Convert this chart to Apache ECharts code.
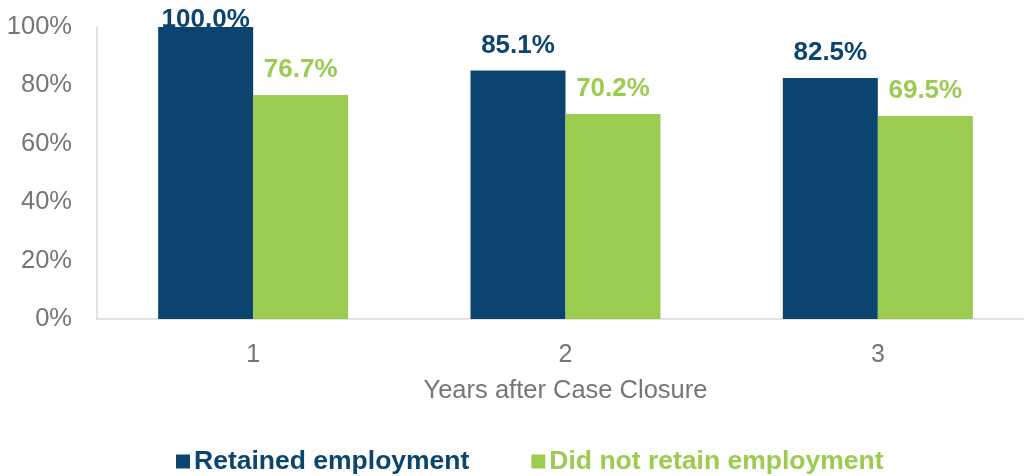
<!DOCTYPE html>
<html><head><meta charset="utf-8">
<script src="https://cdn.jsdelivr.net/npm/echarts@6/dist/echarts.min.js"></script>
<style>html,body{margin:0;padding:0;background:#fff}#c{width:1024px;height:476px}</style>
</head><body><div id="c"></div>
<script>
const categories = ['1', '2', '3'];
const retained = [100.0, 85.1, 82.5];
const notRetained = [76.7, 70.2, 69.5];
const yTicks = [0, 20, 40, 60, 80, 100];
const seriesNames = ['Retained employment', 'Did not retain employment'];
const xName = 'Years after Case Closure';

const BLUE = '#0B456F', GREEN = '#9BCB4F', GRAY = '#767676';
const FONT = '"Liberation Sans", Arial, sans-serif';
// labels at the top of the plot are clamped inside it (as in the source)
const toData = arr => arr.map(v => v >= 100 ? { value: v, label: { distance: -6 } } : v);
const labelFmt = p => p.value.toFixed(1) + '%';
const chart = echarts.init(document.getElementById('c'));
chart.setOption({
  animation: false,
  textStyle: { fontFamily: FONT },
  grid: { left: 97, top: 27, width: 937, bottom: 157, outerBoundsMode: 'none', containLabel: false },
  legend: {
    top: 448, left: 176, padding: 0,
    itemWidth: 14, itemHeight: 14, itemGap: 62,
    icon: 'rect',
    data: seriesNames,
    textStyle: { fontSize: 26.5, fontWeight: 'bold', fontFamily: FONT, color: 'inherit', padding: [0,0,0,-1] }
  },
  xAxis: {
    type: 'category', data: categories,
    name: xName, nameLocation: 'middle', nameGap: 59,
    nameTextStyle: { fontSize: 25.5, color: GRAY },
    axisLine: { lineStyle: { color: '#D9D9D9', width: 1.5 } },
    axisTick: { show: false },
    axisLabel: { fontSize: 25, color: GRAY, margin: 24 }
  },
  yAxis: {
    type: 'value', min: yTicks[0], max: yTicks[yTicks.length-1], interval: 20,
    axisLine: { show: true, lineStyle: { color: '#D9D9D9', width: 1.5 } },
    axisTick: { show: false },
    splitLine: { show: false },
    axisLabel: { fontSize: 25.5, color: GRAY, margin: 25, formatter: v => v + '%' }
  },
  series: [
    { name: seriesNames[0], type: 'bar', data: toData(retained), barWidth: 95, barGap: '0%',
      itemStyle: { color: BLUE },
      label: { show: true, position: 'top', distance: 12, color: BLUE, fontSize: 26, fontWeight: 'bold', formatter: labelFmt } },
    { name: seriesNames[1], type: 'bar', data: toData(notRetained), barWidth: 95,
      itemStyle: { color: GREEN },
      label: { show: true, position: 'top', distance: 12, color: GREEN, fontSize: 26, fontWeight: 'bold', formatter: labelFmt } }
  ]
});
</script></body></html>
